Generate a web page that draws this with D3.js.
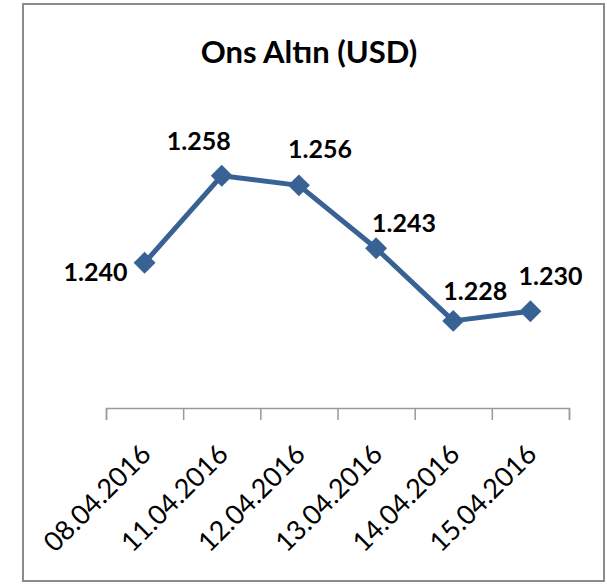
<!DOCTYPE html>
<meta charset="utf-8">
<script src="https://d3js.org/d3.v7.min.js"></script>
<style>
  body { margin: 0; background: #fff; }
</style>
<svg id="chart" width="607" height="584"></svg>
<script>
// data
const dates = ["08.04.2016", "11.04.2016", "12.04.2016", "13.04.2016", "14.04.2016", "15.04.2016"];
const prices = [1.240, 1.258, 1.256, 1.243, 1.228, 1.230];
const priceLabels = ["1.240", "1.258", "1.256", "1.243", "1.228", "1.230"];

// label placement (as in the original, labels were nudged by hand)
const labelDx = [-49, -23, 21, 28, 22, 20];
const labelDy = [18, -26, -27, -16, -21, -26];

const svg = d3.select("#chart");
const color = "#386194";
const font = "Lato, 'Open Sans', sans-serif";

// outer frame
svg.append("rect")
  .attr("x", 23).attr("y", 4)
  .attr("width", 581).attr("height", 577)
  .attr("fill", "none")
  .attr("stroke", "#8c8c8c")
  .attr("stroke-width", 2);

// title
svg.append("text")
  .attr("x", 309).attr("y", 63)
  .attr("text-anchor", "middle")
  .style("font-family", font)
  .style("font-size", "31px")
  .style("font-weight", "bold")
  .text("Ons Altın (USD)");

// scales
const x = d3.scaleLinear().domain([0, dates.length]).range([106, 569]);
const y = d3.scaleLinear().domain([1.21, 1.26]).range([408, 166]);
const cx = i => x(i + 0.5);

// x axis (ticks between categories)
const axis = svg.append("g")
  .attr("transform", "translate(0,408)")
  .call(d3.axisBottom(x).tickValues(d3.range(dates.length + 1)).tickFormat("").tickSize(12).tickSizeOuter(12));
axis.select(".domain").attr("stroke", "#9a9a9a").attr("stroke-width", 1.5);
axis.selectAll(".tick line").attr("stroke", "#9a9a9a").attr("stroke-width", 1.5);

// category labels, rotated
svg.append("g")
  .selectAll("text")
  .data(dates)
  .join("text")
    .attr("transform", (d, i) => `translate(${cx(i) + 8},456) rotate(-45)`)
    .attr("text-anchor", "end")
    .style("font-family", font)
    .style("font-size", "27px")
    .text(d => d);

// line
svg.append("path")
  .datum(prices)
  .attr("fill", "none")
  .attr("stroke", color)
  .attr("stroke-width", 5)
  .attr("stroke-linejoin", "round")
  .attr("d", d3.line().x((d, i) => cx(i)).y(d => y(d)));

// markers
svg.append("g")
  .selectAll("path")
  .data(prices)
  .join("path")
    .attr("transform", (d, i) => `translate(${cx(i)},${y(d)}) rotate(45)`)
    .attr("d", d3.symbol(d3.symbolSquare, 240))
    .attr("fill", color);

// value labels
svg.append("g")
  .selectAll("text")
  .data(prices)
  .join("text")
    .attr("x", (d, i) => cx(i) + labelDx[i])
    .attr("y", (d, i) => y(d) + labelDy[i])
    .attr("text-anchor", "middle")
    .style("font-family", font)
    .style("font-size", "25px")
    .style("font-weight", "bold")
    .text((d, i) => priceLabels[i]);
</script>
